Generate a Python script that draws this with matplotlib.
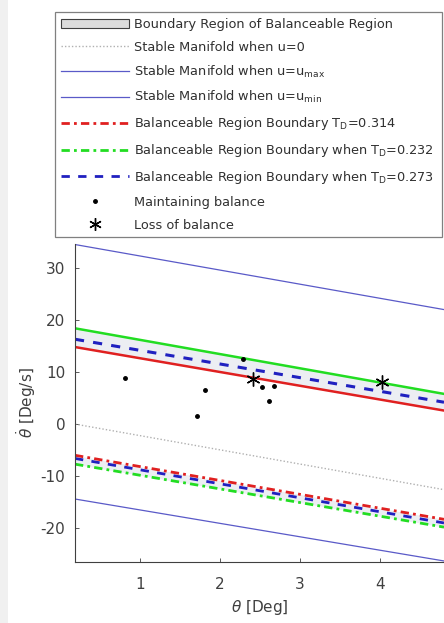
import matplotlib
matplotlib.use('Agg')
import matplotlib.pyplot as plt
from matplotlib.patches import Patch, Rectangle
from matplotlib.lines import Line2D

plt.rcParams['font.family'] = ['DejaVu Sans']
plt.rcParams['axes.unicode_minus'] = False

# theta end points [deg] and line values [deg/s] at those points
theta = [0.19, 4.8]
manifold_u0 = [0.0, -12.6]
manifold_umax = [34.5, 22.0]
manifold_umin = [-14.4, -26.3]
red_upper = [14.8, 2.6]
blue_upper = [16.3, 4.2]
green_upper = [18.4, 5.8]
red_lower = [-6.0, -18.3]
blue_lower = [-6.6, -19.0]
green_lower = [-7.7, -19.8]

# experiment points
keep_theta = [0.81, 1.71, 1.82, 2.29, 2.53, 2.61, 2.68]
keep_rate = [8.8, 1.6, 6.5, 12.5, 7.2, 4.5, 7.4]
loss_theta = [2.42, 4.02]
loss_rate = [8.7, 8.0]

labels = ['Boundary Region of Balanceable Region',
          'Stable Manifold when u=0',
          r'Stable Manifold when u=u$_\mathregular{max}$',
          r'Stable Manifold when u=u$_\mathregular{min}$',
          r'Balanceable Region Boundary T$_\mathregular{D}$=0.314',
          r'Balanceable Region Boundary when T$_\mathregular{D}$=0.232',
          r'Balanceable Region Boundary when T$_\mathregular{D}$=0.273',
          'Maintaining balance',
          'Loss of balance']

W, H = 444, 623
star = (6, 2, 0)
txt_col = '#404040'

fig = plt.figure(figsize=(W / 100, H / 100), dpi=100)
fig.patches.append(Rectangle((0, 0), 8 / W, 1, transform=fig.transFigure,
                             facecolor='#f0f0f0', edgecolor='none'))
ax = fig.add_axes([75 / W, 1 - 562 / H, 1 - 75 / W, (562 - 244) / H])

fill_col = '#eceef3'
ax.fill_between(theta, red_upper, green_upper, color=fill_col, lw=0)
ax.fill_between(theta, green_lower, red_lower, color=fill_col, lw=0)

ax.plot(theta, manifold_u0, ls=(0, (1, 1.5)), color='#b0b0b0', lw=1)
ax.plot(theta, manifold_umax, color='#5a5ac8', lw=0.9)
ax.plot(theta, manifold_umin, color='#5a5ac8', lw=0.9)

ax.plot(theta, green_upper, color='#22dd22', lw=1.8)
ax.plot(theta, red_upper, color='#e02020', lw=1.8)
ax.plot(theta, blue_upper, color='#2020c0', lw=2.2, ls=(0, (3, 3)))
ax.plot(theta, green_lower, color='#22dd22', lw=2, ls=(0, (3, 1.5, 1, 1.5)))
ax.plot(theta, blue_lower, color='#2020c0', lw=2, ls=(0, (3, 3)))
ax.plot(theta, red_lower, color='#e02020', lw=2, ls=(0, (3, 1.5, 1, 1.5)))

ax.plot(keep_theta, keep_rate, '.', color='k', ms=5)
ax.plot(loss_theta, loss_rate, marker=star, ls='none', color='k', ms=10, mew=1)

ax.set_xlim(0.19, 4.8)
ax.set_ylim(-26.5, 34.6)
ax.set_xticks([1, 2, 3, 4])
ax.set_yticks([-20, -10, 0, 10, 20, 30])
ax.tick_params(direction='in', length=3, labelsize=11, colors=txt_col,
               width=0.6)
ax.tick_params(axis='x', pad=11)
ax.tick_params(axis='y', pad=7)
for s in ['top', 'right']:
    ax.spines[s].set_visible(False)
for s in ['left', 'bottom']:
    ax.spines[s].set_color(txt_col)
    ax.spines[s].set_linewidth(0.8)
ax.set_xlabel(r'$\theta$ [Deg]', fontsize=11, color=txt_col, labelpad=4)
ax.set_ylabel(r'$\dot{\theta}$ [Deg/s]', fontsize=11, color=txt_col, labelpad=2)

# legend handles
handles = [Patch(facecolor='#dcdcdc', edgecolor=txt_col, lw=0.8),
           Line2D([], [], ls=(0, (1, 1.5)), color='#b0b0b0', lw=1),
           Line2D([], [], color='#5a5ac8', lw=0.9),
           Line2D([], [], color='#5a5ac8', lw=0.9),
           Line2D([], [], color='#e02020', lw=2, ls=(0, (3, 1.5, 1, 1.5))),
           Line2D([], [], color='#22dd22', lw=2, ls=(0, (3, 1.5, 1, 1.5))),
           Line2D([], [], color='#2020c0', lw=2, ls=(0, (3, 3))),
           Line2D([], [], marker='.', color='k', ls='none', ms=5),
           Line2D([], [], marker=star, color='k', ls='none', ms=9, mew=1)]
leg = fig.legend(handles, labels, loc='upper left',
                 bbox_to_anchor=(55 / W, 1 - 12 / H - 0.01, (442 - 55) / W, 0.01),
                 mode='expand', fontsize=9.3, frameon=True, fancybox=False,
                 handlelength=5.3, handletextpad=0.35, labelspacing=0.76,
                 borderpad=0.45, borderaxespad=0)
leg.get_frame().set_edgecolor('#606060')
leg.get_frame().set_linewidth(0.9)
for t in leg.get_texts():
    t.set_color('#303030')

fig.savefig('out.png', dpi=100)
